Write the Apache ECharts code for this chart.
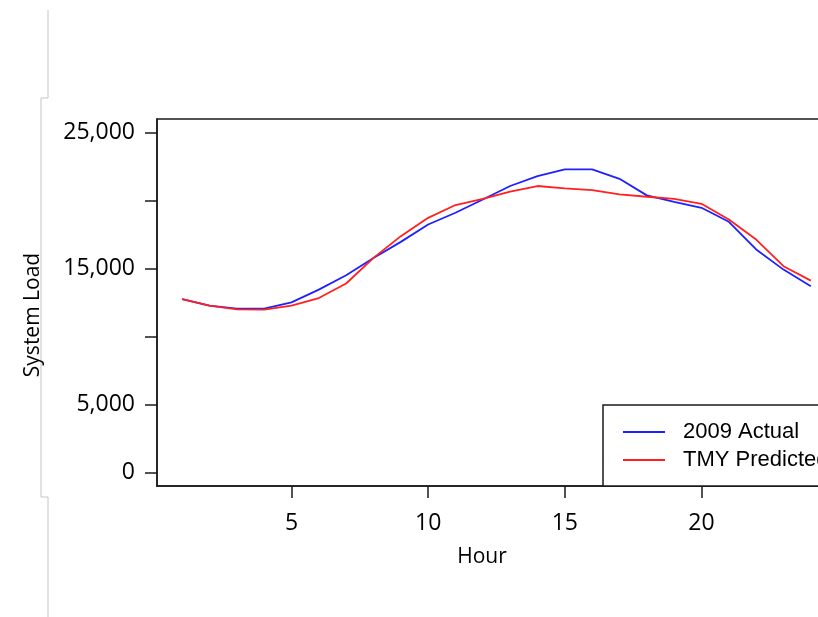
<!DOCTYPE html>
<html>
<head>
<meta charset="utf-8">
<script src="https://cdn.jsdelivr.net/npm/echarts@6/dist/echarts.min.js"></script>
<style>
html,body{margin:0;padding:0;background:#fff;}
#c{width:818px;height:617px;}
</style>
</head>
<body>
<div id="c"></div>
<script>
var hours = [1,2,3,4,5,6,7,8,9,10,11,12,13,14,15,16,17,18,19,20,21,22,23,24];
var actual2009 = [12750,12270,12050,12050,12510,13450,14500,15780,16960,18240,19100,20080,21070,21800,22300,22300,21600,20380,19910,19470,18440,16400,14920,13690];
var tmyPredicted = [12750,12270,12000,11980,12270,12830,13900,15780,17380,18730,19670,20130,20650,21070,20900,20770,20450,20280,20130,19760,18610,17130,15170,14110];
var xTicks = [5,10,15,20];
var yTicks = [0,5000,10000,15000,20000,25000];
var yTickLabels = ['0','5,000','','15,000','','25,000'];
var seriesNames = ['2009 Actual','TMY Predicted'];
var xTitle = 'Hour';
var yTitle = 'System Load';

var chart = echarts.init(document.getElementById('c'), null, {renderer:'canvas'});
var tickFont = {fontFamily:'Open Sans', fontSize:23, color:'#000'};
function pairs(ys){ return hours.map(function(h,i){ return [h, ys[i]]; }); }

chart.setOption({
  animation:false,
  backgroundColor:'#fff',
  grid:{left:157, top:119, width:679, height:367, outerBoundsMode:'none', containLabel:false, show:true, borderColor:'#1a1a1a', borderWidth:1.5, backgroundColor:'transparent'},
  xAxis:{
    type:'value', min:0.08, max:24.92,
    name:xTitle, nameLocation:'middle', nameGap:61,
    nameTextStyle:{fontFamily:'Open Sans', fontSize:21, color:'#000', padding:[0,29,0,0]},
    axisLine:{show:true, onZero:false, lineStyle:{color:'#1a1a1a', width:1.5}},
    axisTick:{show:true, length:12, customValues:xTicks, lineStyle:{color:'#1a1a1a', width:1.5}},
    axisLabel:Object.assign({margin:26, customValues:xTicks, formatter:function(v){return String(v);}}, tickFont),
    splitLine:{show:false}
  },
  yAxis:{
    type:'value', min:-1000, max:26000,
    axisLine:{show:true, onZero:false, lineStyle:{color:'#1a1a1a', width:1.5}},
    axisTick:{show:true, length:12, customValues:yTicks, lineStyle:{color:'#1a1a1a', width:1.5}},
    axisLabel:Object.assign({margin:22, customValues:yTicks, formatter:function(v){var i=yTicks.indexOf(v); return i>=0?yTickLabels[i]:'';}}, tickFont),
    splitLine:{show:false}
  },
  legend:{
    orient:'vertical', left:603, top:405,
    data:seriesNames,
    icon:'rect', itemWidth:42, itemHeight:2, itemGap:6,
    padding:[16,40,15,20],
    backgroundColor:'#fff', borderColor:'#1a1a1a', borderWidth:1.5,
    textStyle:{fontFamily:'Liberation Sans', fontSize:22, color:'#000', padding:[0,0,0,13]}
  },
  graphic:[
    {type:'polyline', silent:true, shape:{points:[[48,10],[48,98],[41,98],[41,497],[48,497],[48,617]]}, style:{stroke:'#c4c4c4', lineWidth:1, fill:null}},
    {type:'text', x:33, y:315, rotation:Math.PI/2, style:{text:yTitle, fontFamily:'Open Sans', fontSize:21, fill:'#000', align:'center', verticalAlign:'middle'}}
  ],
  series:[
    {name:seriesNames[0], type:'line', data:pairs(actual2009), showSymbol:false, symbol:'none', lineStyle:{color:'#2020ff', width:1.8}, itemStyle:{color:'#2020ff'}},
    {name:seriesNames[1], type:'line', data:pairs(tmyPredicted), showSymbol:false, symbol:'none', lineStyle:{color:'#ff2020', width:1.8}, itemStyle:{color:'#ff2020'}}
  ]
});
</script>
</body>
</html>
